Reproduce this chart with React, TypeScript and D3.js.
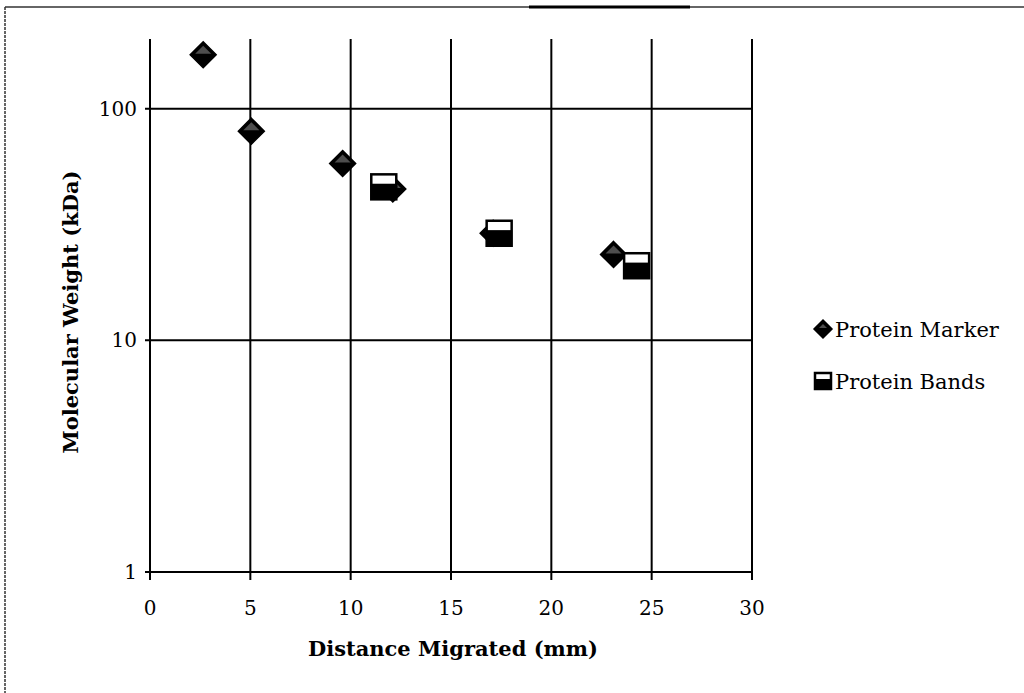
import React, { useEffect, useRef } from 'react';
import * as d3 from 'd3';

// distance (mm) and molecular weight (kDa)
const markerX = [2.65, 5.05, 9.6, 12.1, 17.1, 23.1];
const markerY = [171, 80, 58, 45, 29, 23.5];
const bandsX = [11.65, 17.4, 24.25];
const bandsY = [46, 29, 21];

const xTicks = [0, 5, 10, 15, 20, 25, 30];
const yTicks = [1, 10, 100];
const seriesNames = ['Protein Marker', 'Protein Bands'];

const FONT = '"DejaVu Serif", "Liberation Serif", serif';

const App = () => {
  const ref = useRef<SVGSVGElement>(null);

  useEffect(() => {
    const svg = d3.select(ref.current);
    svg.selectAll('*').remove();

    const x = d3.scaleLinear().domain([0, 30]).range([150, 752]);
    const y = d3.scaleLog().domain([1, 200]).range([572, 39]);

    // frame of the scanned page
    svg.append('line').attr('x1', 5).attr('x2', 1024).attr('y1', 7).attr('y2', 7)
      .attr('stroke', '#333').attr('stroke-width', 1.5);
    svg.append('line').attr('x1', 5).attr('x2', 5).attr('y1', 7).attr('y2', 693)
      .attr('stroke', '#333').attr('stroke-width', 1.5).attr('stroke-dasharray', '3 1');
    svg.append('line').attr('x1', 529).attr('x2', 690).attr('y1', 7).attr('y2', 7)
      .attr('stroke', '#000').attr('stroke-width', 3);

    // vertical grid + ticks
    svg.append('g').selectAll('line').data(xTicks).join('line')
      .attr('x1', d => x(d)).attr('x2', d => x(d))
      .attr('y1', y(200)).attr('y2', y(1) + 8)
      .attr('stroke', '#000').attr('stroke-width', 2);

    // horizontal grid + axis
    svg.append('g').selectAll('line').data(yTicks).join('line')
      .attr('x1', x(0) - 5).attr('x2', x(30))
      .attr('y1', d => y(d)).attr('y2', d => y(d))
      .attr('stroke', '#000').attr('stroke-width', 2);

    svg.append('g').selectAll('text').data(xTicks).join('text')
      .attr('x', d => x(d)).attr('y', 615)
      .attr('text-anchor', 'middle')
      .attr('font-family', FONT).attr('font-size', 20)
      .text(d => d);

    svg.append('g').selectAll('text').data(yTicks).join('text')
      .attr('x', 137).attr('y', d => y(d) + 7)
      .attr('text-anchor', 'end')
      .attr('font-family', FONT).attr('font-size', 20)
      .text(d => d);

    svg.append('text')
      .attr('x', 453).attr('y', 656)
      .attr('text-anchor', 'middle')
      .attr('font-family', FONT).attr('font-size', 21).attr('font-weight', 'bold')
      .text('Distance Migrated (mm)');

    svg.append('text')
      .attr('transform', `translate(78,${312}) rotate(-90)`)
      .attr('text-anchor', 'middle')
      .attr('font-family', FONT).attr('font-size', 21).attr('font-weight', 'bold')
      .text('Molecular Weight (kDa)');

    const diamond = (g: any, s: number) => {
      g.append('path')
        .attr('d', `M0,${-s}L${s},0L0,${s}L${-s},0Z`)
        .attr('fill', '#000').attr('stroke', '#000').attr('stroke-width', 1.5);
      g.append('path')
        .attr('d', `M0,${-s + 4}L${s - 5},${-1}L${-s + 5},${-1}Z`)
        .attr('fill', '#fff').attr('opacity', 0.3);
    };
    const box = (g: any, s: number) => {
      g.append('rect').attr('x', -s).attr('y', -s).attr('width', 2 * s).attr('height', 2 * s)
        .attr('fill', '#fff').attr('stroke', '#000').attr('stroke-width', 2.5);
      g.append('rect').attr('x', -s).attr('y', -s * 0.25).attr('width', 2 * s).attr('height', s * 1.25)
        .attr('fill', '#000');
    };

    const markers = d3.zip(markerX, markerY);
    svg.append('g').selectAll('g').data(markers).join('g')
      .attr('transform', d => `translate(${x(d[0])},${y(d[1])})`)
      .each(function () { diamond(d3.select(this), 13); });

    const bands = d3.zip(bandsX, bandsY);
    svg.append('g').selectAll('g').data(bands).join('g')
      .attr('transform', d => `translate(${x(d[0])},${y(d[1])})`)
      .each(function () { box(d3.select(this), 12.5); });

    // legend
    const legend = svg.append('g').selectAll('g').data(seriesNames).join('g')
      .attr('transform', (d, i) => `translate(823,${329 + i * 52})`);
    legend.each(function (d, i) {
      const g = d3.select(this);
      if (i === 0) diamond(g, 9);
      else box(g, 8);
    });
    legend.append('text')
      .attr('x', 12).attr('y', 8)
      .attr('font-family', FONT).attr('font-size', 21)
      .text(d => d);
  }, []);

  return (
    <svg ref={ref} width={1024} height={693} style={{ position: 'absolute', left: 0, top: 0, background: '#fff' }} />
  );
};

export default App;
